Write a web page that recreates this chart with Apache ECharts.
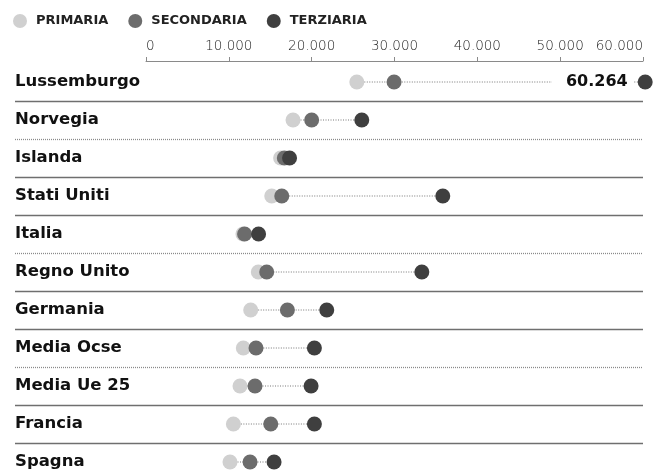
<!DOCTYPE html>
<html>
<head>
<meta charset="utf-8">
<script src="https://cdn.jsdelivr.net/npm/echarts@6/dist/echarts.min.js"></script>
<style>
  html, body { margin: 0; padding: 0; background: #fff; }
  #chart { width: 653px; height: 474px; }
</style>
</head>
<body>
<div id="chart"></div>
<script>
const countries = ["Lussemburgo", "Norvegia", "Islanda", "Stati Uniti", "Italia", "Regno Unito", "Germania", "Media Ocse", "Media Ue 25", "Francia", "Spagna"];
const primaria = [25450, 17750, 16250, 15180, 11700, 13560, 12640, 11750, 11350, 10550, 10140];
const secondaria = [29950, 20000, 16700, 16390, 11900, 14570, 17070, 13280, 13160, 15060, 12560];
const terziaria = [60264, 26050, 17330, 35830, 13590, 33300, 21820, 20330, 19930, 20330, 15460];
const xTicks = [0, 10000, 20000, 30000, 40000, 50000, 60000];
// which row separators are dotted (line below each row except the last)
const dottedSep = [false, true, false, false, true, false, false, true, false, false];

const fmt = (v) => String(Math.round(v)).replace(/\B(?=(\d{3})+(?!\d))/g, ".");
const FONT = "DejaVu Sans";

const chart = echarts.init(document.getElementById("chart"));

const sepData = dottedSep.map((d, i) => [0, i + 0.5, d ? 1 : 0]);
const linkData = countries.map((c, i) => {
  const vals = [primaria[i], secondaria[i], terziaria[i]];
  return [Math.min(...vals), i, Math.max(...vals)];
});

const dotSeries = (name, arr, color) => ({
  name: name,
  type: "scatter",
  xAxisIndex: 0,
  yAxisIndex: 1,
  symbol: "circle",
  symbolSize: 15,
  clip: false,
  z: 5,
  itemStyle: { color: color, opacity: 1 },
  data: arr.map((v, i) => [v, i]),
});

const terz = dotSeries("TERZIARIA", terziaria, "#3f3f3f");
terz.data[0] = {
  value: [terziaria[0], 0],
  label: {
    show: true,
    position: "left",
    distance: 4,
    formatter: (p) => fmt(p.value[0]),
    fontFamily: FONT,
    fontWeight: "bold",
    fontSize: 16,
    color: "#111",
    backgroundColor: "#fff",
    padding: [2, 6, 2, 14],
  },
};

const option = {
  animation: false,
  backgroundColor: "#fff",
  legend: {
    left: 8,
    top: 9,
    icon: "circle",
    itemWidth: 14,
    itemHeight: 14,
    itemGap: 20,
    textStyle: {
      fontFamily: FONT,
      fontWeight: "bold",
      fontSize: 13,
      color: "#222",
      padding: [0, 0, 0, 4],
    },
    data: ["PRIMARIA", "SECONDARIA", "TERZIARIA"],
  },
  grid: { left: 146, right: 10, top: 63, height: 418, containLabel: false, outerBoundsMode: "none" },
  xAxis: {
    type: "value",
    position: "top",
    offset: 2,
    min: xTicks[0],
    max: xTicks[xTicks.length - 1],
    interval: xTicks[1] - xTicks[0],
    axisLine: { show: true, onZero: false, lineStyle: { color: "#8a8a8a", width: 1 } },
    axisTick: { show: true, length: 4, lineStyle: { color: "#8a8a8a" } },
    splitLine: { show: false },
    axisLabel: {
      margin: 8,
      formatter: (v) => fmt(v),
      fontFamily: FONT,
      fontWeight: 300,
      fontSize: 13.5,
      color: "#222",
      alignMinLabel: "left",
      alignMaxLabel: "right",
    },
  },
  yAxis: [
    {
      type: "category",
      inverse: true,
      data: countries,
      boundaryGap: true,
      axisLine: { show: false },
      axisTick: { show: false },
      splitLine: { show: false },
      axisLabel: {
        align: "left",
        verticalAlign: "middle",
        margin: 131,
        fontFamily: FONT,
        fontWeight: "bold",
        fontSize: 16.5,
        color: "#111",
        padding: [8, 0, 0, 0],
      },
    },
    {
      type: "value",
      inverse: true,
      min: -0.5,
      max: countries.length - 0.5,
      show: false,
    },
  ],
  series: [
    {
      type: "custom",
      xAxisIndex: 0,
      yAxisIndex: 1,
      z: 1,
      silent: true,
      clip: false,
      data: sepData,
      renderItem: (params, api) => {
        const cs = params.coordSys;
        const y = Math.round(api.coord([0, api.value(1)])[1]) + 0.5;
        const dotted = api.value(2) === 1;
        return {
          type: "line",
          shape: { x1: cs.x - 131, y1: y, x2: cs.x + cs.width, y2: y },
          style: {
            stroke: dotted ? "#8a8a8a" : "#6f6f6f",
            lineWidth: 1.3,
            lineDash: dotted ? [1, 1] : null,
          },
        };
      },
    },
    {
      type: "custom",
      xAxisIndex: 0,
      yAxisIndex: 1,
      z: 2,
      silent: true,
      clip: false,
      data: linkData,
      encode: { x: [0, 2], y: 1 },
      renderItem: (params, api) => {
        const p1 = api.coord([api.value(0), api.value(1)]);
        const p2 = api.coord([api.value(2), api.value(1)]);
        return {
          type: "line",
          shape: { x1: p1[0], y1: p1[1], x2: p2[0], y2: p2[1] },
          style: { stroke: "#777", lineWidth: 1, lineDash: [1, 1.5] },
        };
      },
    },
    dotSeries("PRIMARIA", primaria, "#d0d0d0"),
    dotSeries("SECONDARIA", secondaria, "#6c6c6c"),
    terz,
  ],
};

chart.setOption(option);
</script>
</body>
</html>
